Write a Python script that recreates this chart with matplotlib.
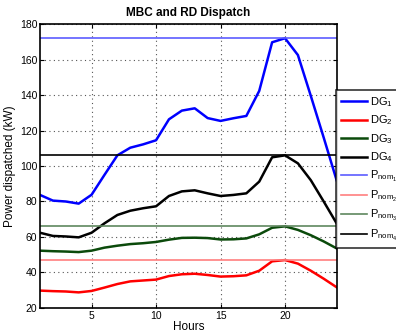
import matplotlib
matplotlib.use('Agg')
from matplotlib import pyplot as plt

plt.rcParams['font.family'] = ['Liberation Sans', 'DejaVu Sans']
plt.rcParams['mathtext.fontset'] = 'custom'
plt.rcParams['mathtext.rm'] = 'Liberation Sans'
plt.rcParams['mathtext.it'] = 'Liberation Sans'

# data
hours = list(range(1, 25))
dg1 = [83.7, 80.5, 80.0, 78.8, 83.8, 95.0, 106.0, 110.3, 112.2, 114.5, 126.3, 131.2,
       132.5, 127.0, 125.4, 126.9, 128.2, 142.3, 169.7, 172.0, 162.5, 139.5, 116.0, 92.0]
dg2 = [29.8, 29.5, 29.3, 28.8, 29.6, 31.5, 33.5, 35.0, 35.5, 36.0, 38.0, 39.0,
       39.3, 38.6, 37.7, 37.9, 38.4, 41.0, 46.3, 47.0, 45.0, 41.0, 36.5, 31.7]
dg3 = [52.3, 52.0, 51.8, 51.5, 52.3, 54.0, 55.1, 56.0, 56.5, 57.2, 58.5, 59.5,
       59.6, 59.4, 58.6, 58.7, 59.2, 61.5, 65.2, 66.0, 64.0, 61.0, 57.5, 53.6]
dg4 = [62.4, 60.6, 60.3, 59.8, 62.4, 67.7, 72.4, 74.8, 76.2, 77.3, 83.1, 85.7,
       86.3, 84.6, 83.1, 83.7, 84.6, 91.2, 104.9, 106.0, 101.5, 92.0, 80.0, 67.7]
p_nom = [172, 47, 66, 106]

dg_colors = ['#0000ff', '#ff0000', '#0b4a0b', '#000000']
nom_colors = ['#5c5cff', '#ff7f7f', '#5f875f', '#000000']

fig = plt.figure(figsize=(3.96, 3.32), dpi=100)
ax = fig.add_axes([0.101, 0.0723, 0.749, 0.8554])

for i, s in enumerate([dg1, dg2, dg3, dg4]):
    ax.plot(hours, s, color=dg_colors[i], linewidth=1.8, label='DG$_%d$' % (i + 1))
for i, p in enumerate(p_nom):
    ax.axhline(p, color=nom_colors[i], linewidth=1.2,
               label='P$_{nom_%d}$' % (i + 1))

ax.set_xlim(1, 24)
ax.set_ylim(20, 180)
ax.set_xticks([5, 10, 15, 20])
ax.set_yticks(range(20, 181, 20))
ax.tick_params(direction='in', labelsize=7.5, length=3, width=0.8, pad=2)
ax.tick_params(axis='y', right=True, labelright=False)
ax.tick_params(axis='x', top=True, labeltop=False)
ax.grid(True, linestyle=(0, (1, 3)), color='#555555', linewidth=0.8)
for sp in ax.spines.values():
    sp.set_linewidth(1.2)

ax.set_title('MBC and RD Dispatch', fontsize=8.5, fontweight='bold', pad=6)
ax.set_xlabel('Hours', fontsize=8.5, labelpad=0)
ax.set_ylabel('Power dispatched (kW)', fontsize=8.5, labelpad=3)

leg = fig.legend(loc='upper left', bbox_to_anchor=(336 / 396, (332 - 90) / 332),
                 fontsize=8, frameon=True, fancybox=False, edgecolor='black',
                 handlelength=2.3, handletextpad=0.3, labelspacing=0.42,
                 borderpad=0.45, borderaxespad=0)
leg.get_frame().set_linewidth(1.2)

plt.savefig('out.png', dpi=100)
